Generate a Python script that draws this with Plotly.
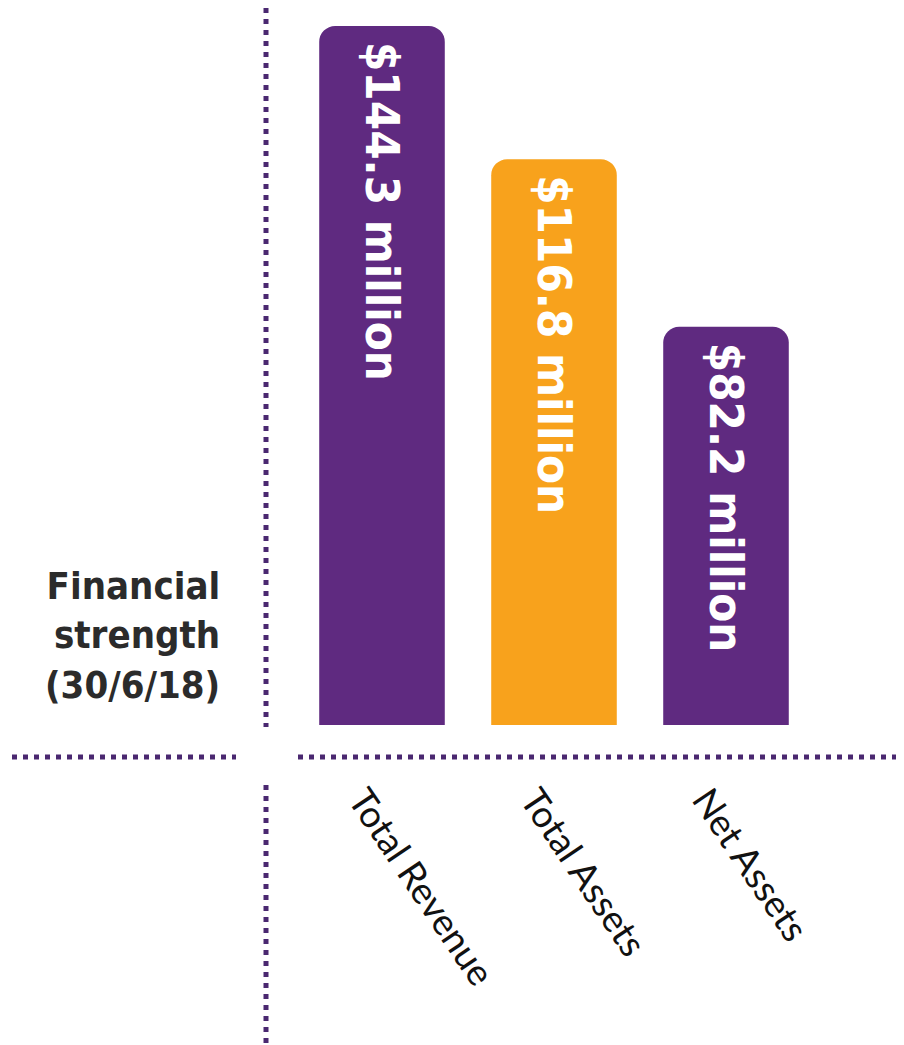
import plotly.graph_objects as go

categories = ["Total Revenue", "Total Assets", "Net Assets"]
values = [144.3, 116.8, 82.2]
bar_labels = ["$144.3 million", "$116.8 million", "$82.2 million"]
bar_colors = ["#5F2A80", "#F8A21C", "#5F2A80"]
title_text = "Financial<br>strength<br>(30/6/18)"

OFF = 8  # page offset of the figure
W, H = 904, 1045
# plot area in page pixels: x 296..812, y 8..725
L, R = 296 - OFF, 92 + OFF
T, B = 8 - OFF, H - (725 - OFF)
pw, ph = W - L - R, H - T - B

def px(p):
    return (p - OFF - L) / pw

def py(q):
    return (H - B - (q - OFF)) / ph

bold_font = "DejaVu Sans Condensed, Liberation Sans Narrow, Roboto Condensed, Liberation Sans, sans-serif"

fig = go.Figure()
fig.add_trace(go.Bar(
    x=categories, y=values,
    marker=dict(color=bar_colors, line=dict(width=0)),
    text=bar_labels, textposition="inside", insidetextanchor="end",
    textangle=90,
    textfont=dict(family=bold_font, size=47, color="white", weight="bold"),
    hoverinfo="skip",
))

dot_color = "#4A2870"
dash = "5px,6px"
shapes = [
    dict(type="line", xref="paper", yref="paper", x0=px(12), x1=px(236), y0=py(757), y1=py(757),
         line=dict(color=dot_color, width=5, dash=dash)),
    dict(type="line", xref="paper", yref="paper", x0=px(298), x1=px(902), y0=py(757), y1=py(757),
         line=dict(color=dot_color, width=5, dash=dash)),
    dict(type="line", xref="paper", yref="paper", x0=px(266), x1=px(266), y0=py(8), y1=py(727),
         line=dict(color=dot_color, width=5, dash=dash)),
    dict(type="line", xref="paper", yref="paper", x0=px(266), x1=px(266), y0=py(785), y1=py(1045),
         line=dict(color=dot_color, width=5, dash=dash)),
]

fig.update_layout(
    width=W, height=H,
    margin=dict(l=L, r=R, t=T, b=B, autoexpand=False),
    paper_bgcolor="white", plot_bgcolor="white",
    bargap=0.27, barcornerradius=16,
    showlegend=False,
    shapes=shapes,
    xaxis=dict(showline=False, showgrid=False, zeroline=False, ticks="",
               tickangle=56, ticklabelstandoff=45, ticklabelshift=-20,
               tickfont=dict(family="Lato", size=37, color="#111111"),
               automargin=False),
    yaxis=dict(range=[0, 148], showline=False, showgrid=False, zeroline=False,
               showticklabels=False, ticks="", automargin=False),
    annotations=[dict(
        text=title_text, xref="paper", yref="paper", x=px(222), y=py(635),
        xanchor="right", yanchor="middle", align="right", showarrow=False,
        font=dict(family=bold_font, size=38, color="#2B2B2B", weight="bold"),
    )],
)

fig.write_html("out.html")
